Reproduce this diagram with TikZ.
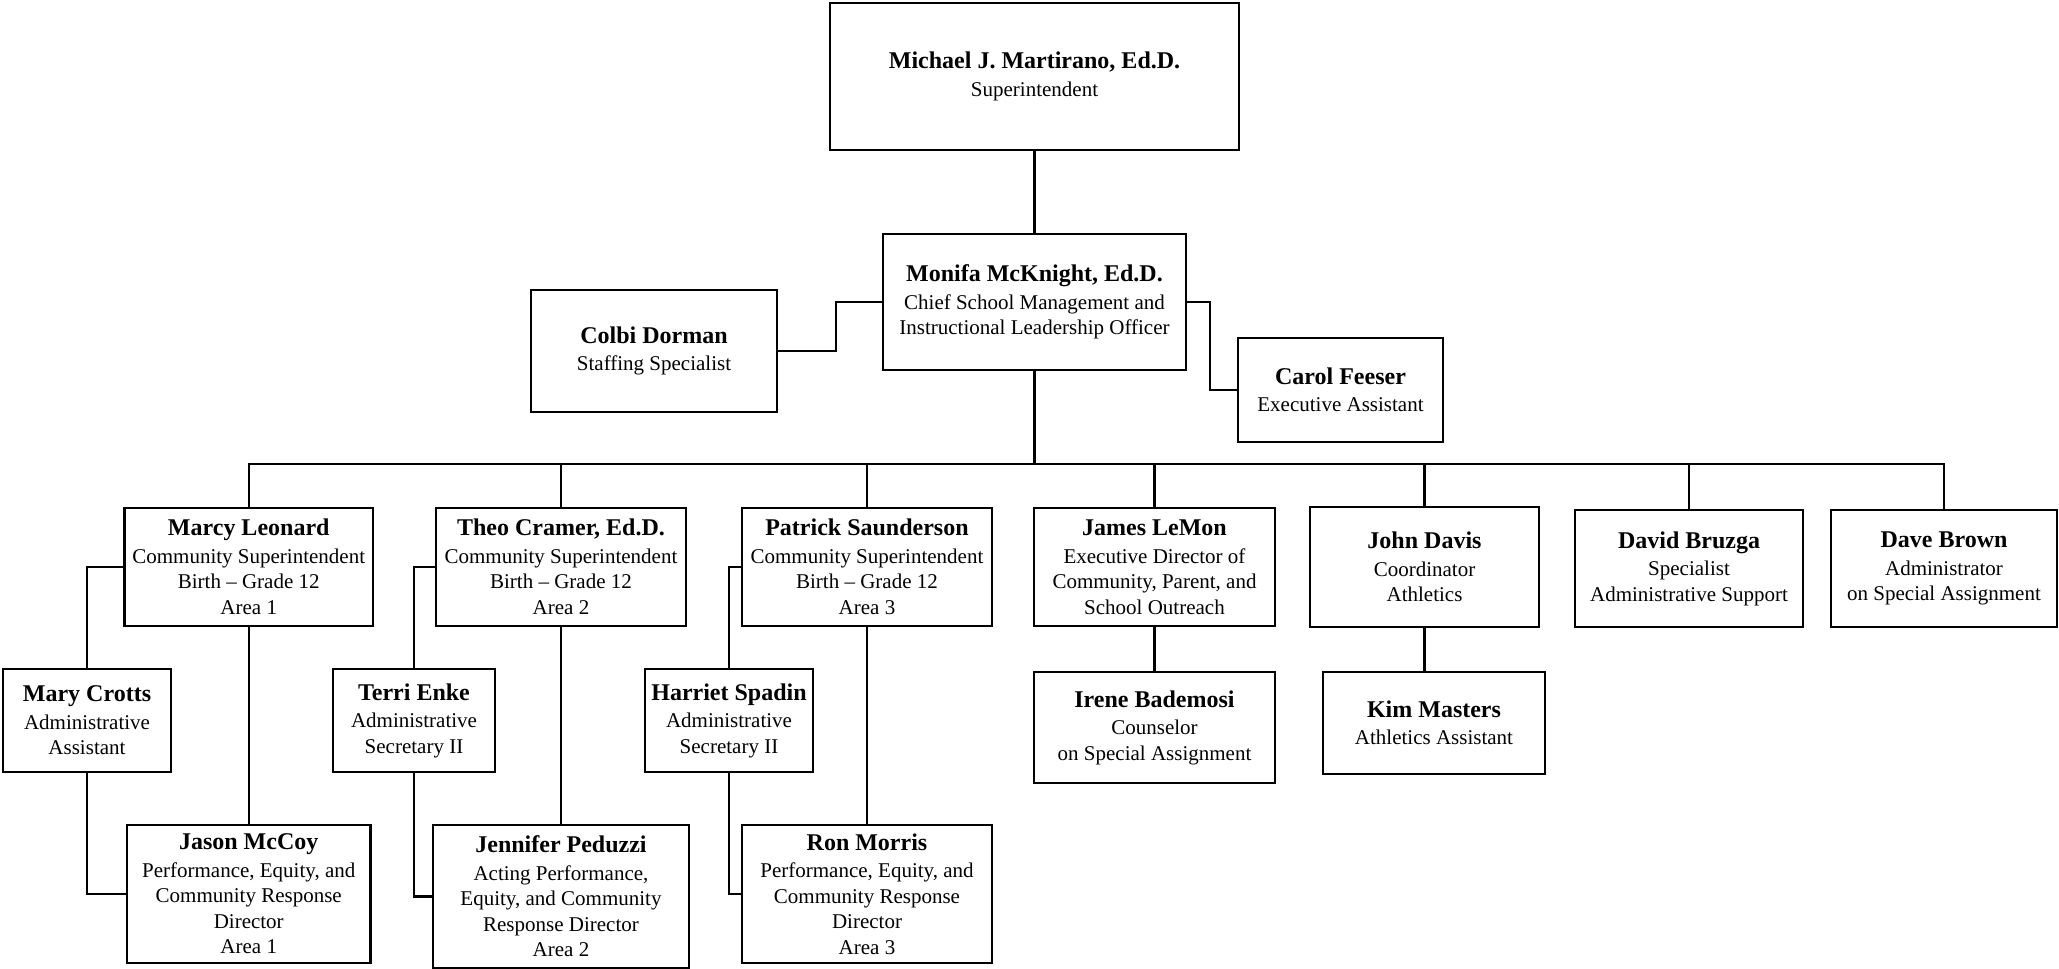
\documentclass[tikz,border=0pt]{standalone}
\usepackage{fontspec}
\setmainfont{Liberation Serif}
\tikzset{
  staff_box/.style={rectangle, draw=black, line width=2.4pt, align=center, inner sep=2pt, font=\fontsize{21}{25.5}\selectfont},
  link_line/.style={-, line width=2.4pt, black}
}
\newcommand{\pname}[1]{{\fontsize{24}{28}\selectfont\bfseries #1}\\[2pt]}

\begin{document}
\begin{tikzpicture}[x=1pt, y=-1pt]
    \useasboundingbox (0,0) rectangle (2059,969);

    % Top of the chart
    \node[staff_box, minimum width=409pt, minimum height=147pt](super) at (1034.5,76.5) {\pname{Michael J. Martirano, Ed.D.}Superintendent};
    \node[staff_box, minimum width=303pt, minimum height=136pt](chief) at (1034.5,302) {\pname{Monifa McKnight, Ed.D.}Chief School Management and\\Instructional Leadership Officer};
    \node[staff_box, minimum width=246pt, minimum height=122pt](colbi) at (654,351) {\pname{Colbi Dorman}Staffing Specialist};
    \node[staff_box, minimum width=205pt, minimum height=104pt](carol) at (1340.5,390) {\pname{Carol Feeser}Executive Assistant};

    % First row under the chief
    \node[staff_box, minimum width=248.5pt, minimum height=118pt](marcy) at (248.75,567) {\pname{Marcy Leonard}Community Superintendent\\Birth -- Grade 12\\Area 1};
    \node[staff_box, minimum width=250pt, minimum height=118pt](theo) at (561,567) {\pname{Theo Cramer, Ed.D.}Community Superintendent\\Birth -- Grade 12\\Area 2};
    \node[staff_box, minimum width=250pt, minimum height=118pt](patrick) at (867,567) {\pname{Patrick Saunderson}Community Superintendent\\Birth -- Grade 12\\Area 3};
    \node[staff_box, minimum width=241pt, minimum height=118pt](james) at (1154.5,567) {\pname{James LeMon}Executive Director of\\Community, Parent, and\\School Outreach};
    \node[staff_box, minimum width=229pt, minimum height=120pt](john) at (1424.5,567) {\pname{John Davis}Coordinator\\Athletics};
    \node[staff_box, minimum width=228pt, minimum height=117pt](david) at (1689,568.5) {\pname{David Bruzga}Specialist\\Administrative Support};
    \node[staff_box, minimum width=226pt, minimum height=117pt](dave) at (1944,568.5) {\pname{Dave Brown}Administrator\\on Special Assignment};

    % Second row
    \node[staff_box, minimum width=168pt, minimum height=103pt](mary) at (87,720.5) {\pname{Mary Crotts}Administrative\\Assistant};
    \node[staff_box, minimum width=162pt, minimum height=103pt](terri) at (414,720.5) {\pname{Terri Enke}Administrative\\Secretary II};
    \node[staff_box, minimum width=168pt, minimum height=103pt](harriet) at (729,720.5) {\pname{Harriet Spadin}Administrative\\Secretary II};
    \node[staff_box, minimum width=241pt, minimum height=111pt](irene) at (1154.5,727.5) {\pname{Irene Bademosi}Counselor\\on Special Assignment};
    \node[staff_box, minimum width=222pt, minimum height=102pt](kim) at (1434,723) {\pname{Kim Masters}Athletics Assistant};

    % Third row
    \node[staff_box, minimum width=243.5pt, minimum height=138pt](jason) at (248.75,894) {\pname{Jason McCoy}Performance, Equity, and\\Community Response\\Director\\Area 1};
    \node[staff_box, minimum width=256pt, minimum height=143pt](jennifer) at (561,896.5) {\pname{Jennifer Peduzzi}Acting Performance,\\Equity, and Community\\Response Director\\Area 2};
    \node[staff_box, minimum width=250pt, minimum height=138pt](ron) at (867,894) {\pname{Ron Morris}Performance, Equity, and\\Community Response\\Director\\Area 3};

    % Lines between the boxes
    \draw[link_line] (super.south) -- (chief.north);
    \draw[link_line] (colbi.east) -- ++(58,0) |- (chief.west);
    \draw[link_line] (chief.east) -- ++(23,0) |- (carol.west);

    % The bus under the chief
    \coordinate (bus) at (1034.5,464);
    \draw[link_line] (chief.south) -- (bus);
    \draw[link_line] (bus) -| (marcy.north);
    \draw[link_line] (bus) -| (theo.north);
    \draw[link_line] (bus) -| (patrick.north);
    \draw[link_line] (bus) -| (james.north);
    \draw[link_line] (bus) -| (john.north);
    \draw[link_line] (bus) -| (david.north);
    \draw[link_line] (bus) -| (dave.north);

    % Area branches
    \draw[link_line] (marcy.west) -| (mary.north);
    \draw[link_line] (mary.south) |- (jason.west);
    \draw[link_line] (marcy.south) -- (jason.north);
    \draw[link_line] (theo.west) -| (terri.north);
    \draw[link_line] (terri.south) |- (jennifer.west);
    \draw[link_line] (theo.south) -- (jennifer.north);
    \draw[link_line] (patrick.west) -| (harriet.north);
    \draw[link_line] (harriet.south) |- (ron.west);
    \draw[link_line] (patrick.south) -- (ron.north);

    % Other branches
    \draw[link_line] (james.south) -- (irene.north);
    \draw[link_line] (john.south) -- (john.south |- kim.north);
\end{tikzpicture}
\end{document}
